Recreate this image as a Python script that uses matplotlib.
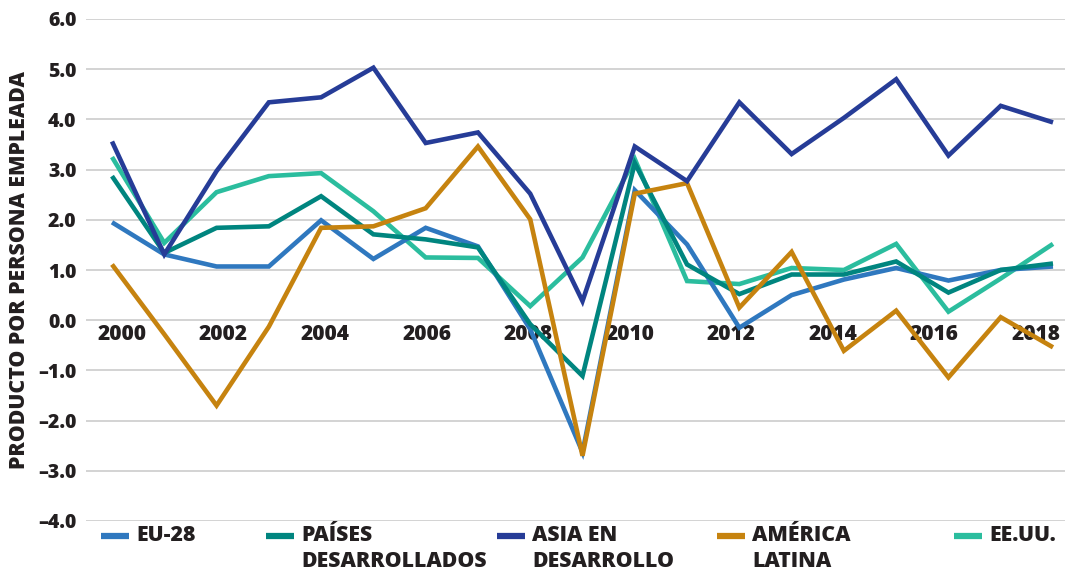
import matplotlib
matplotlib.use("Agg")
import matplotlib.pyplot as plt
from matplotlib.lines import Line2D
import matplotlib.transforms as mtransforms

years = list(range(2000, 2019))
eu28 = [1.95, 1.31, 1.07, 1.07, 1.99, 1.22, 1.84, 1.47, -0.18, -2.63, 2.59, 1.51, -0.15, 0.50, 0.81, 1.04, 0.79, 1.00, 1.07]
paises_des = [2.87, 1.34, 1.84, 1.87, 2.47, 1.71, 1.61, 1.45, -0.08, -1.11, 3.13, 1.11, 0.52, 0.91, 0.91, 1.17, 0.55, 1.00, 1.13]
asia_des = [3.56, 1.31, 2.97, 4.34, 4.44, 5.03, 3.53, 3.74, 2.52, 0.38, 3.46, 2.77, 4.34, 3.31, 4.03, 4.80, 3.28, 4.27, 3.94]
america_lat = [1.11, -0.28, -1.70, -0.13, 1.84, 1.87, 2.23, 3.46, 2.01, -2.70, 2.52, 2.73, 0.25, 1.36, -0.61, 0.19, -1.14, 0.06, -0.54]
eeuu = [3.25, 1.54, 2.55, 2.87, 2.93, 2.17, 1.25, 1.24, 0.28, 1.25, 3.21, 0.78, 0.72, 1.04, 1.00, 1.52, 0.17, 0.83, 1.52]

labels = ["EU-28", "PAÍSES\nDESARROLLADOS", "ASIA EN\nDESARROLLO", "AMÉRICA\nLATINA", "EE.UU."]
colors = ["#2f78bf", "#00857f", "#263c97", "#c6830f", "#2bbd9e"]
series = [eu28, paises_des, asia_des, america_lat, eeuu]
draw_order = [4, 0, 1, 3, 2]

yticks = [6, 5, 4, 3, 2, 1, 0, -1, -2, -3, -4]
ytick_labels = ["6.0", "5.0", "4.0", "3.0", "2.0", "1.0", "0.0", "\u20131.0", "\u20132.0", "\u20133.0", "\u20134.0"]
year_labels = [2000, 2002, 2004, 2006, 2008, 2010, 2012, 2014, 2016, 2018]
ylabel = "PRODUCTO POR PERSONA EMPLEADA"

txt = "#231f20"
plt.rcParams['font.family'] = ['Open Sans', 'DejaVu Sans']
W_BOLD = 800

W, H = 1069, 571
fig = plt.figure(figsize=(W / 100, H / 100), dpi=100)
ax = fig.add_axes([86 / W, 1 - 521 / H, (1065 - 86) / W, (521 - 19) / H])

for i in draw_order:
    ax.plot(years, series[i], color=colors[i], lw=3.3, solid_joinstyle='miter', solid_capstyle='butt', zorder=3)

ax.set_ylim(-4, 6)
px_per_year = (1053 - 112) / 18
ax.set_xlim(2000 - (112 - 86) / px_per_year, 2018 + (1065 - 1053) / px_per_year)
ax.set_yticks(yticks)
ax.set_yticklabels(ytick_labels, fontsize=14, fontweight=W_BOLD, color=txt)
ax.set_xticks([])
ax.tick_params(axis='y', length=0, pad=7)
ax.grid(axis='y', color='#cccccc', lw=1.2, zorder=0)
for s in ax.spines.values():
    s.set_visible(False)

off = mtransforms.offset_copy(ax.transData, fig=fig, x=0, y=-4, units='dots')
for yr in year_labels:
    xpos = 2000.19 + (yr - 2000) * (17.48 / 18)
    ax.text(xpos, 0, str(yr), transform=off, ha='center', va='top', fontsize=15,
            fontweight=W_BOLD, color=txt, zorder=2)

fig.text(20 / W, 1 - 270 / H, ylabel, rotation=90, ha='center', va='center',
         fontsize=15.3, fontweight=W_BOLD, color=txt)

handle_x = [101, 266, 497, 717, 954]
for i, lab in enumerate(labels):
    x0 = handle_x[i]
    fig.add_artist(Line2D([x0 / W, (x0 + 28) / W], [1 - 535.5 / H] * 2, color=colors[i], lw=4.5,
                          solid_capstyle='butt', transform=fig.transFigure))
    fig.text((x0 + 35) / W, 1 - 525 / H, lab, ha='left', va='top', fontsize=15.3,
             fontweight=W_BOLD, color=txt, linespacing=1.3)

fig.savefig("out.png", dpi=100)
